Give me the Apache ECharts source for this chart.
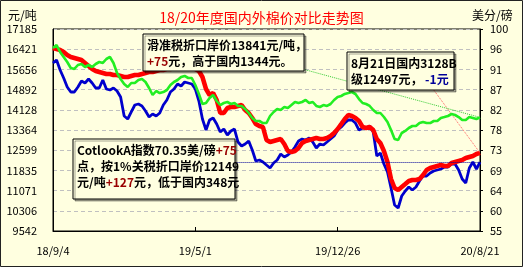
<!DOCTYPE html>
<html><head><meta charset="utf-8">
<script src="https://cdn.jsdelivr.net/npm/echarts@6/dist/echarts.min.js"></script>
<style>html,body{margin:0;padding:0;background:#FFFFE0}#c{width:523px;height:267px}</style>
</head><body><div id="c"></div>
<script>
// ---- data ----
const tickDates = ['2018-09-04', '2019-05-01', '2019-12-26', '2020-08-21'];
const tickLabels = ['18/9/4', '19/5/1', '19/12/26', '20/8/21'];
const stepsPerTick = 40;

// 国内3128B (元/吨)
const domestic3128B = [16466,16428,16390,16315,16201,16126,16088,16050,16012,15899,15785,15672,15596,15558,15520,15482,15482,15445,15445,15407,15369,15369,15407,15445,15445,15482,15520,15558,15558,15596,15634,15634,15672,15672,15709,15709,15747,15709,15709,15709,15672,15596,15369,14915,14688,14763,14499,14007,14007,14196,14234,14234,14272,14309,14120,14007,13818,13590,13515,13477,12985,12909,12947,12985,13023,12834,12569,12531,12569,12682,12872,12947,12985,13023,13061,13023,13023,13061,13136,13250,13401,13590,13780,13931,13893,13818,13704,13477,13439,13477,13363,13023,12872,12569,12153,11509,11169,11093,11207,11320,11434,11472,11472,11509,11661,11850,11926,11964,12002,12039,12002,12002,12115,12153,12191,12228,12304,12342,12380,12455,12497];
// 1%关税折口岸价 (元/吨)
const import1pct = [15899,16012,15634,15331,14990,14801,14801,14990,15218,15142,15293,15142,14953,14953,15255,14915,14877,14953,14839,14612,13893,13780,14045,14309,14347,14272,14082,13855,13969,13893,14007,14309,14499,14801,14915,15104,15028,15180,15142,15104,14915,14461,13780,13363,13742,13818,13590,13288,13401,13174,13326,13401,12909,12758,12834,12947,12607,12191,12228,12153,12039,11926,12115,12228,12455,12342,12418,12531,12720,12947,13023,12985,13061,12909,12682,12834,12796,12909,13023,13136,13363,13477,13628,13742,13742,13628,13363,13439,13439,13515,13288,12380,12493,12077,11774,11169,10526,10412,10866,11055,11207,11093,11207,11434,11623,11623,11737,11812,11850,11888,11964,11964,12077,12077,11850,11509,11358,11926,12153,11888,12149];
// 滑准税折口岸价 (元/吨)
const importSliding = [16466,16580,16315,16126,15936,15709,15672,15823,15861,15747,15823,15747,15861,15936,15899,16050,16126,15899,15520,15293,15104,14990,15142,15142,15255,15293,15180,14953,14688,14839,14763,14801,14877,15066,15180,15255,15369,15407,15331,15331,15066,14726,14347,14385,14574,14688,14461,14309,14385,14423,14347,14385,14272,14272,14158,14007,13818,13704,13704,13628,13628,13893,14045,14158,14120,14234,14196,14309,14423,14385,14423,14499,14385,14423,14272,14234,14309,14272,14347,14499,14612,14650,14726,14763,14801,14726,14536,14385,14347,14272,14120,14007,14007,13855,13666,13363,13023,12985,13250,13326,13439,13515,13515,13628,13666,13628,13628,13704,13704,13818,13855,13893,13969,13931,13855,13742,13742,13855,13818,13780,13841];

const leftMin = 9542, leftMax = 17185, leftStep = 764.3;
const rightMin = 55, rightMax = 100, rightStep = 4.5;

// leader-line anchors (category index, value)
const greenLeaderStart = [67, 15785];
const redLeaderStart = [107, 14877];
const blueRefStart = 10;

// ---- categories (dates) ----
function fmt(d){return String(d.getUTCFullYear()).slice(2)+'/'+(d.getUTCMonth()+1)+'/'+d.getUTCDate();}
const categories = [];
for (let k = 0; k < tickDates.length - 1; k++) {
  const a = Date.parse(tickDates[k]), b = Date.parse(tickDates[k+1]);
  for (let j = 0; j < stepsPerTick; j++) {
    categories.push(fmt(new Date(a + Math.round(j*(b-a)/stepsPerTick/86400000)*86400000)));
  }
}
categories.push(fmt(new Date(Date.parse(tickDates[tickDates.length-1]))));

const FONT = '"Noto Sans CJK SC", "DejaVu Sans", sans-serif';
const BG = '#FFFFE0';
const rs = (c) => ({fill: c, fontSize: 12, fontWeight: 'bold', fontFamily: FONT, lineHeight: 16});

function box(x, y, w, h, text, rich, lh) {
  return [
    {type: 'rect', z: 100, shape: {x: x, y: y, width: w, height: h},
     style: {fill: BG, stroke: '#000', lineWidth: 1, shadowColor: 'rgba(0,0,0,0.35)', shadowOffsetX: 2, shadowOffsetY: 2}},
    {type: 'text', z: 101, x: x + 4, y: y + 3,
     style: {text: text, rich: rich, fill: '#000', fontSize: 12, fontWeight: 'bold', fontFamily: FONT, lineHeight: lh}}
  ];
}

const lastBlue = import1pct[import1pct.length - 1];
const lastGreen = importSliding[importSliding.length - 1];
const lastRed = domestic3128B[domestic3128B.length - 1];

const richDef = {
  n: rs('#000'),
  r: rs('#990000'),
  b: rs('#000099')
};

const chart = echarts.init(document.getElementById('c'), null, {renderer: 'canvas'});
chart.setOption({
  animation: false,
  backgroundColor: BG,
  title: {
    text: '18/20年度国内外棉价对比走势图', left: 'center', top: 6,
    textStyle: {color: '#FF0000', fontSize: 14, fontWeight: 'normal', fontFamily: FONT}
  },
  grid: {left: 53, right: 43, top: 29, bottom: 36, show: true, borderColor: '#000', borderWidth: 1, backgroundColor: 'transparent'},
  xAxis: {
    type: 'category', data: categories, boundaryGap: false,
    axisLine: {lineStyle: {color: '#000', width: 1}},
    axisTick: {inside: true, length: 4, interval: stepsPerTick - 1, lineStyle: {color: '#000'}},
    axisLabel: {interval: stepsPerTick - 1, margin: 14, color: '#000', fontSize: 11, fontFamily: FONT},
    splitLine: {show: false}
  },
  yAxis: [{
    type: 'value', min: leftMin, max: leftMax, interval: leftStep,
    axisLine: {show: true, lineStyle: {color: '#000'}},
    axisTick: {show: false},
    axisLabel: {margin: 16, color: '#000', fontSize: 11, fontFamily: FONT, formatter: v => String(Math.round(v))},
    splitLine: {show: true, lineStyle: {color: '#C0C0C0', type: [4, 3], width: 1}}
  }, {
    type: 'value', min: rightMin, max: rightMax, interval: rightStep, position: 'right',
    axisLine: {show: true, lineStyle: {color: '#000'}},
    axisTick: {show: true, length: 3, lineStyle: {color: '#000'}},
    axisLabel: {margin: 10, color: '#000', fontSize: 11, fontFamily: FONT, formatter: v => String(Math.round(v))},
    splitLine: {show: false}
  }],
  series: [{
    name: '1%关税折口岸价', type: 'line', data: import1pct, showSymbol: false, z: 3,
    lineStyle: {color: '#0000CC', width: 2.8}, itemStyle: {color: '#0000CC'},
    markLine: {silent: true, symbol: ['none', 'none'], label: {show: false},
      lineStyle: {color: '#000099', type: 'dotted', width: 1},
      data: [[{coord: [blueRefStart, lastBlue]}, {coord: [categories.length - 1, lastBlue]}]]}
  }, {
    name: '国内3128B', type: 'line', data: domestic3128B, showSymbol: false, z: 4,
    lineStyle: {color: '#FF0000', width: 4.5}, itemStyle: {color: '#FF0000'},
    markLine: {silent: true, symbol: ['none', 'none'], label: {show: false},
      lineStyle: {color: '#FF6060', type: 'dotted', width: 1},
      data: [[{coord: redLeaderStart}, {coord: [categories.length - 1, lastRed]}]]}
  }, {
    name: '滑准税折口岸价', type: 'line', data: importSliding, showSymbol: false, z: 5,
    lineStyle: {color: '#22EE22', width: 2.6}, itemStyle: {color: '#22EE22'},
    markLine: {silent: true, symbol: ['none', 'none'], label: {show: false},
      lineStyle: {color: '#33CC33', type: 'dotted', width: 1},
      data: [[{coord: greenLeaderStart}, {coord: [categories.length - 1, lastGreen]}]]}
  }],
  graphic: [
    {type: 'rect', z: 200, silent: true, shape: {x: 0.5, y: 0.5, width: 522, height: 266}, style: {fill: 'none', stroke: '#222', lineWidth: 1}},
    {type: 'text', z: 100, x: 8, y: 9, style: {text: '元/吨', fill: '#000', fontSize: 12, fontFamily: FONT}},
    {type: 'text', z: 100, x: 472, y: 9, style: {text: '美分/磅', fill: '#000', fontSize: 12, fontFamily: FONT}},
    ...box(143, 34, 161, 37, '{n|滑准税折口岸价13841元/吨，}\n{r|+75}{n|元，高于国内1344元。}', richDef, 16),
    ...box(347, 52, 107, 38, '{n|8月21日国内3128B}\n{n|级12497元，}{b| -1元}', richDef, 16),
    ...box(73, 139, 162, 60, '{n|CotlookA指数70.35美/磅}{r|+75}\n{n|点，按1%关税折口岸价12149}\n{n|元/吨}{r|+127}{n|元，低于国内348元}', richDef, 15)
  ]
});
</script></body></html>
